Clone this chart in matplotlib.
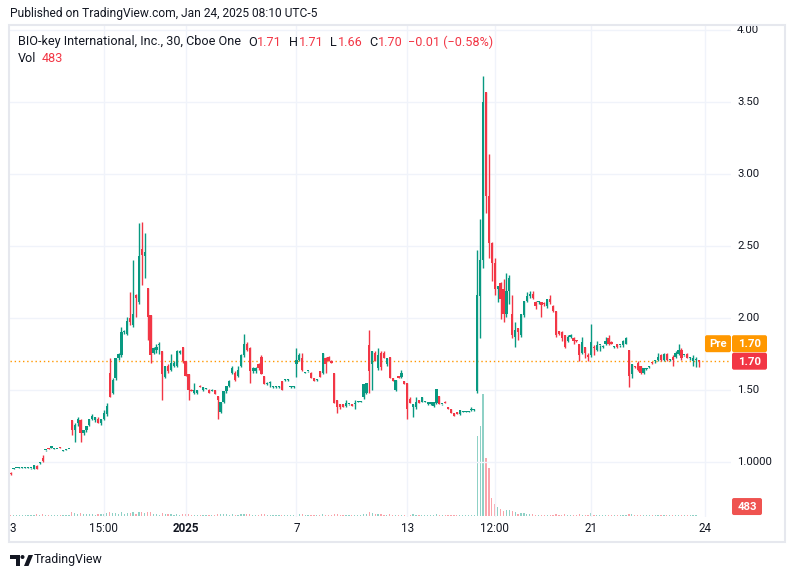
import numpy as np
import matplotlib
matplotlib.use("Agg")
import matplotlib.pyplot as plt
from matplotlib.patches import Rectangle, FancyBboxPatch, Polygon, Circle
from matplotlib.transforms import IdentityTransform

# 30 min bars, BIO-key (Cboe One), Dec 23 2024 -> Jan 24 2025
# each row: open, high, low, close, volume (thousands)
seg_dec = [
    (0.925, 0.930, 0.910, 0.915, 60), (0.950, 0.955, 0.948, 0.955, 40),
    (0.955, 0.960, 0.955, 0.960, 50), (0.960, 0.962, 0.958, 0.960, 30),
    (0.960, 0.962, 0.958, 0.961, 40), (0.960, 0.962, 0.958, 0.960, 30),
    (0.960, 0.962, 0.958, 0.961, 50), (0.955, 0.958, 0.953, 0.957, 40),
    (0.950, 0.980, 0.948, 0.980, 80), (0.975, 0.978, 0.952, 0.953, 90),
    (0.990, 1.000, 0.988, 1.000, 70), (1.030, 1.050, 1.000, 1.005, 140),
    (1.080, 1.085, 1.078, 1.084, 60), (1.099, 1.100, 1.088, 1.089, 50),
    (1.100, 1.112, 1.099, 1.110, 70), (1.092, 1.094, 1.090, 1.093, 40),
    (1.090, 1.092, 1.089, 1.091, 30), (1.100, 1.101, 1.095, 1.096, 40),
    (1.078, 1.082, 1.076, 1.080, 40), (1.084, 1.087, 1.083, 1.086, 30),
    (1.090, 1.093, 1.089, 1.092, 60),
]
seg_run = [
    (1.29, 1.295, 1.19, 1.22, 250), (1.22, 1.27, 1.14, 1.26, 200),
    (1.27, 1.31, 1.25, 1.30, 120), (1.29, 1.30, 1.14, 1.20, 220),
    (1.20, 1.22, 1.19, 1.22, 100), (1.22, 1.25, 1.21, 1.25, 90),
    (1.26, 1.30, 1.25, 1.30, 120), (1.30, 1.33, 1.29, 1.32, 100),
    (1.29, 1.31, 1.28, 1.31, 80), (1.30, 1.31, 1.27, 1.27, 90),
    (1.27, 1.30, 1.26, 1.30, 100), (1.30, 1.36, 1.29, 1.34, 150),
    (1.33, 1.41, 1.32, 1.39, 200), (1.62, 1.72, 1.45, 1.45, 320),
    (1.48, 1.58, 1.47, 1.57, 200), (1.58, 1.72, 1.57, 1.72, 240),
    (1.72, 1.76, 1.71, 1.75, 120), (1.74, 1.94, 1.73, 1.90, 260),
    (1.90, 1.92, 1.89, 1.91, 100), (1.89, 2.01, 1.88, 1.98, 180),
    (2.00, 2.18, 1.95, 1.975, 220), (1.95, 2.40, 1.94, 2.03, 280),
    (2.16, 2.17, 2.01, 2.14, 150), (2.11, 2.66, 2.10, 2.43, 320),
    (2.48, 2.67, 2.23, 2.44, 300), (2.43, 2.59, 2.28, 2.46, 200),
    (2.21, 2.21, 1.85, 2.01, 260), (2.02, 2.02, 1.69, 1.74, 280),
    (1.76, 1.80, 1.75, 1.79, 100), (1.78, 1.82, 1.76, 1.80, 90),
    (1.81, 1.83, 1.75, 1.815, 80), (1.77, 1.77, 1.43, 1.61, 200),
    (1.59, 1.67, 1.58, 1.67, 150), (1.67, 1.68, 1.62, 1.63, 90),
    (1.64, 1.75, 1.63, 1.69, 120), (1.67, 1.70, 1.66, 1.69, 70),
    (1.67, 1.78, 1.66, 1.77, 120), (1.76, 1.78, 1.75, 1.77, 60),
    (1.80, 1.80, 1.69, 1.70, 110), (1.70, 1.70, 1.60, 1.60, 130),
    (1.61, 1.61, 1.43, 1.50, 150), (1.50, 1.51, 1.49, 1.495, 60),
    (1.48, 1.55, 1.475, 1.50, 80), (1.48, 1.50, 1.47, 1.50, 60),
    (1.53, 1.535, 1.52, 1.52, 40), (1.50, 1.52, 1.495, 1.52, 50),
    (1.51, 1.515, 1.505, 1.512, 30), (1.50, 1.505, 1.48, 1.48, 50),
    (1.495, 1.505, 1.49, 1.50, 40), (1.50, 1.50, 1.47, 1.47, 60),
    (1.46, 1.46, 1.30, 1.43, 140), (1.35, 1.42, 1.34, 1.42, 120),
    (1.42, 1.49, 1.41, 1.49, 100), (1.49, 1.53, 1.48, 1.53, 90),
    (1.53, 1.57, 1.52, 1.56, 80),
]
seg_jan_a = [
    (1.62, 1.67, 1.61, 1.65, 90), (1.62, 1.63, 1.56, 1.57, 70),
    (1.60, 1.67, 1.59, 1.64, 80), (1.67, 1.75, 1.66, 1.74, 120),
    (1.74, 1.89, 1.73, 1.82, 160), (1.82, 1.83, 1.77, 1.78, 90),
    (1.79, 1.80, 1.55, 1.63, 140), (1.63, 1.66, 1.62, 1.65, 60),
    (1.63, 1.66, 1.62, 1.65, 50), (1.68, 1.69, 1.64, 1.65, 50),
    (1.73, 1.74, 1.61, 1.61, 110), (1.60, 1.60, 1.54, 1.54, 90),
    (1.54, 1.555, 1.535, 1.55, 40), (1.55, 1.56, 1.52, 1.55, 40),
    (1.52, 1.525, 1.515, 1.52, 30), (1.52, 1.525, 1.515, 1.521, 30),
    (1.52, 1.53, 1.515, 1.52, 30), (1.56, 1.56, 1.50, 1.50, 70),
    (1.57, 1.575, 1.565, 1.572, 30), (1.57, 1.575, 1.565, 1.571, 30),
    (1.52, 1.525, 1.515, 1.521, 30), (1.52, 1.525, 1.515, 1.521, 30),
    (1.68, 1.79, 1.59, 1.71, 160), (1.71, 1.76, 1.70, 1.74, 100),
    (1.72, 1.76, 1.63, 1.64, 110), (1.62, 1.625, 1.615, 1.621, 40),
    (1.63, 1.635, 1.625, 1.631, 40), (1.62, 1.625, 1.58, 1.58, 60),
    (1.58, 1.585, 1.56, 1.56, 50), (1.57, 1.575, 1.565, 1.571, 30),
    (1.63, 1.63, 1.59, 1.59, 60), (1.62, 1.76, 1.61, 1.76, 150),
    (1.72, 1.73, 1.62, 1.68, 80), (1.73, 1.735, 1.70, 1.70, 60),
    (1.70, 1.705, 1.69, 1.69, 40), (1.62, 1.62, 1.41, 1.41, 160),
    (1.43, 1.43, 1.34, 1.38, 120), (1.40, 1.40, 1.37, 1.38, 60),
    (1.40, 1.40, 1.38, 1.38, 50), (1.39, 1.43, 1.385, 1.41, 60),
    (1.40, 1.405, 1.395, 1.401, 30), (1.40, 1.40, 1.39, 1.39, 40),
    (1.40, 1.43, 1.37, 1.401, 40), (1.42, 1.425, 1.415, 1.421, 30),
    (1.42, 1.425, 1.415, 1.421, 30),
]
seg_jan_b = [
    (1.45, 1.54, 1.44, 1.54, 90), (1.48, 1.55, 1.47, 1.55, 100),
    (1.81, 1.92, 1.48, 1.63, 280), (1.68, 1.77, 1.50, 1.77, 200),
    (1.76, 1.77, 1.70, 1.70, 100), (1.65, 1.79, 1.64, 1.74, 120),
    (1.76, 1.77, 1.64, 1.66, 110), (1.76, 1.77, 1.72, 1.72, 70),
    (1.68, 1.72, 1.67, 1.72, 60), (1.73, 1.73, 1.58, 1.58, 110),
    (1.58, 1.585, 1.56, 1.56, 60), (1.50, 1.57, 1.49, 1.57, 80),
    (1.60, 1.60, 1.58, 1.585, 40), (1.59, 1.64, 1.585, 1.62, 60),
    (1.56, 1.565, 1.54, 1.54, 50), (1.55, 1.55, 1.30, 1.37, 150),
    (1.44, 1.45, 1.41, 1.41, 80), (1.38, 1.40, 1.31, 1.40, 90),
    (1.38, 1.45, 1.37, 1.42, 70), (1.43, 1.43, 1.41, 1.41, 40),
    (1.42, 1.45, 1.415, 1.45, 50), (1.42, 1.425, 1.415, 1.421, 30),
    (1.40, 1.42, 1.395, 1.42, 30), (1.40, 1.42, 1.395, 1.42, 30),
    (1.39, 1.42, 1.385, 1.42, 40), (1.41, 1.51, 1.40, 1.51, 90),
    (1.46, 1.46, 1.40, 1.40, 60), (1.40, 1.405, 1.395, 1.401, 30),
    (1.42, 1.425, 1.41, 1.41, 30),
    (1.38, 1.38, 1.37, 1.37, 40), (1.37, 1.37, 1.34, 1.34, 50),
    (1.34, 1.34, 1.32, 1.32, 50), (1.35, 1.35, 1.33, 1.33, 40),
    (1.33, 1.36, 1.325, 1.36, 40), (1.35, 1.355, 1.345, 1.351, 30),
    (1.35, 1.355, 1.345, 1.351, 30), (1.35, 1.355, 1.345, 1.351, 30),
    (1.36, 1.38, 1.355, 1.361, 30), (1.36, 1.365, 1.355, 1.362, 30),
]
seg_spike = [
    (1.49, 2.47, 1.48, 2.16, 6400), (2.15, 2.69, 1.86, 2.40, 7200),
    (2.40, 3.68, 2.35, 3.50, 9800), (3.57, 3.57, 2.73, 2.85, 4600),
    (2.85, 3.14, 2.42, 2.52, 3800), (2.52, 2.53, 2.26, 2.38, 1400),
    (2.38, 2.42, 2.16, 2.20, 900), (2.20, 2.22, 2.11, 2.22, 700),
    (2.24, 2.25, 1.99, 2.13, 500), (2.20, 2.27, 1.97, 2.03, 400),
    (2.03, 2.31, 2.01, 2.19, 450), (2.19, 2.30, 2.10, 2.28, 450),
    (2.03, 2.16, 1.86, 1.88, 350), (1.87, 1.97, 1.80, 1.92, 250),
    (1.93, 1.93, 1.85, 1.90, 150), (1.88, 2.03, 1.87, 2.03, 180),
    (2.02, 2.12, 2.01, 2.12, 200), (2.12, 2.18, 2.11, 2.15, 120),
    (2.15, 2.19, 2.14, 2.17, 90),
    (2.17, 2.19, 2.13, 2.14, 100), (2.11, 2.12, 2.06, 2.08, 80),
    (2.11, 2.12, 2.10, 2.111, 60), (2.11, 2.11, 2.01, 2.09, 70),
    (2.10, 2.11, 2.08, 2.095, 50), (2.08, 2.13, 2.07, 2.13, 70),
    (2.13, 2.16, 2.10, 2.11, 80), (2.08, 2.09, 2.04, 2.05, 60),
    (2.05, 2.05, 1.87, 1.88, 120), (1.91, 1.91, 1.88, 1.89, 60),
    (1.90, 1.91, 1.84, 1.86, 70), (1.88, 1.88, 1.79, 1.80, 90),
]
seg_late = [
    (1.84, 1.88, 1.83, 1.87, 60), (1.87, 1.89, 1.86, 1.88, 50),
    (1.86, 1.87, 1.82, 1.84, 50), (1.845, 1.85, 1.83, 1.84, 40),
    (1.82, 1.82, 1.70, 1.74, 90), (1.76, 1.87, 1.75, 1.83, 80),
    (1.80, 1.80, 1.72, 1.76, 60), (1.74, 1.76, 1.70, 1.73, 50),
    (1.74, 1.96, 1.73, 1.83, 200), (1.80, 1.81, 1.74, 1.795, 60),
    (1.78, 1.84, 1.77, 1.81, 50), (1.81, 1.815, 1.77, 1.811, 40),
    (1.80, 1.81, 1.79, 1.801, 30), (1.82, 1.87, 1.81, 1.84, 60),
    (1.86, 1.88, 1.81, 1.82, 60), (1.83, 1.84, 1.82, 1.82, 40),
    (1.80, 1.805, 1.79, 1.801, 30), (1.82, 1.82, 1.79, 1.80, 40),
    (1.81, 1.81, 1.80, 1.811, 30), (1.81, 1.85, 1.80, 1.84, 40),
    (1.82, 1.87, 1.82, 1.86, 60), (1.78, 1.78, 1.52, 1.60, 150),
    (1.61, 1.68, 1.58, 1.68, 90), (1.665, 1.67, 1.655, 1.66, 40),
    (1.69, 1.70, 1.63, 1.64, 60), (1.67, 1.67, 1.61, 1.62, 60),
    (1.62, 1.65, 1.61, 1.65, 50), (1.645, 1.655, 1.64, 1.65, 30),
    (1.66, 1.665, 1.655, 1.661, 30), (1.69, 1.695, 1.68, 1.685, 30),
    (1.70, 1.71, 1.69, 1.71, 40), (1.71, 1.76, 1.70, 1.73, 60),
    (1.74, 1.75, 1.70, 1.71, 50), (1.71, 1.76, 1.70, 1.75, 50),
    (1.75, 1.76, 1.70, 1.71, 50), (1.71, 1.715, 1.70, 1.711, 30),
    (1.73, 1.74, 1.67, 1.71, 50), (1.73, 1.77, 1.72, 1.76, 50),
    (1.75, 1.82, 1.74, 1.78, 70), (1.78, 1.79, 1.71, 1.72, 60),
    (1.74, 1.745, 1.735, 1.741, 30), (1.75, 1.76, 1.72, 1.72, 40),
    (1.72, 1.73, 1.71, 1.721, 30),
    (1.70, 1.74, 1.67, 1.72, 40), (1.71, 1.73, 1.66, 1.71, 30),
    (1.71, 1.71, 1.66, 1.70, 0.483),
]

price_ticks = [1.0, 1.5, 2.0, 2.5, 3.0, 3.5, 4.0]
price_labels = ["1.0000", "1.50", "2.00", "2.50", "3.00", "3.50", "4.00"]
time_ticks = [0, 32, 60, 98, 136, 166, 199, 238]
time_labels = ["3", "15:00", "2025", "7", "13", "12:00", "21", "24"]

rows = np.array(seg_dec + seg_run + seg_jan_a + seg_jan_b + seg_spike + seg_late)
o, h, l, c, vol = rows.T
n = len(rows)
x = np.arange(n)

UP, DOWN = "#089981", "#f23645"
TXT = "#131722"
GRID = "#f0f3fa"
ORANGE = "#ff9800"
FONT = ["Roboto", "DejaVu Sans"]

W, H = 795, 578
fig = plt.figure(figsize=(W / 100, H / 100), dpi=100)
renderer = fig.canvas.get_renderer()


def box(x0, y0, x1, y1):
    # pixel box (top-left origin) -> figure fraction rect
    return [x0 / W, 1 - y1 / H, (x1 - x0) / W, (y1 - y0) / H]


plot_box = box(10, 25, 731, 517)
ylo, yhi = 1 - 55 / 144, 1 + 437 / 144
xlo, xhi = -0.2, 247

ax_v = fig.add_axes(plot_box)
ax = fig.add_axes(plot_box, sharex=ax_v)
ax.patch.set_alpha(0)
for a in (ax, ax_v):
    a.set_axis_off()
ax.set_xlim(xlo, xhi)
ax.set_ylim(ylo, yhi)

# grid
for p in price_ticks:
    ax.axhline(p, color=GRID, lw=1, zorder=0)
for t in time_ticks[1:]:
    ax.axvline(t, color=GRID, lw=1, zorder=0)

# volume
up = c >= o
vcols = np.where(up, UP, DOWN)
ax_v.bar(x, vol, width=0.45, color=vcols, alpha=0.45, linewidth=0)
ax_v.set_ylim(-vol.max() * 0.012, vol.max() * 4.03)

# candles
ax.vlines(x, l, h, colors=vcols, lw=1, zorder=3)
body = np.maximum(np.abs(c - o), 0.007)
ax.bar(x, body, bottom=np.minimum(o, c), width=0.75, color=vcols,
       linewidth=0, zorder=4)

# last price line
ax.axhline(c[-1], color=ORANGE, lw=1, ls=(0, (1, 2)), zorder=2)

# price scale
ax_p = fig.add_axes(box(731, 25, 785, 517))
ax_p.set_axis_off()
ax_p.set_xlim(0, 54)
ax_p.set_ylim(ylo, yhi)
for p, lab in zip(price_ticks, price_labels):
    ax_p.text(6, p, lab, va="center", ha="left", fontsize=8.2, color=TXT,
              family=FONT, clip_on=True)

# time labels
for t, lab in zip(time_ticks, time_labels):
    px = 10 + (t - xlo) * 721 / (xhi - xlo)
    ha = "center"
    if t == 0:
        px, ha = 9, "left"
    fig.text(px / W, 1 - 528 / H, lab, ha=ha, va="center", fontsize=8.4,
             color=TXT, family=FONT,
             fontweight="bold" if lab == "2025" else "normal")


def badge(x0, yc, w, hgt, color, label, size=8.2):
    r = FancyBboxPatch((x0, H - yc - hgt / 2), w, hgt,
                       boxstyle="round,pad=0,rounding_size=2",
                       transform=IdentityTransform(), fc=color, ec="none",
                       zorder=10)
    fig.add_artist(r)
    fig.text((x0 + w / 2) / W, 1 - (yc + 0.5) / H, label, color="white",
             ha="center", va="center", fontsize=size, fontweight="bold",
             family=FONT, zorder=11)


last_y = H - ax.transData.transform((0, c[-1]))[1]
badge(732, last_y, 35, 17, DOWN, f"{c[-1]:.2f}")
badge(732, last_y - 17.5, 35, 17, ORANGE, f"{c[-1]:.2f}")
badge(705, last_y - 17.5, 26, 17, ORANGE, "Pre")
vol_base = H - ax_v.transData.transform((0, 0))[1]
badge(732, vol_base - 9, 30, 17, "#ef5350", f"{vol[-1] * 1000:.0f}")


def fit(s, target, size=10):
    t = fig.text(0, 0, s, fontsize=size, family=FONT)
    w = t.get_window_extent(renderer).width
    t.remove()
    return size * target / w


def row(pieces, x0, y, size):
    for s, col, gap in pieces:
        t = fig.text(x0 / W, 1 - y / H, s, fontsize=size, color=col,
                     ha="left", va="center", family=FONT)
        x0 += t.get_window_extent(renderer).width + gap


head = "Published on TradingView.com, Jan 24, 2025 08:10 UTC-5"
fig.text(10 / W, 1 - 14 / H, head, fontsize=fit(head, 307), color=TXT,
         ha="left", va="center", family=FONT)

name = "BIO-key International, Inc., 30, Cboe One"
lsize = fit(name, 223)
chg = c[-1] - c[-2]
pct = chg / c[-2] * 100
row([(name, TXT, 7),
     ("O", TXT, 0.5), (f"{o[-1]:.2f}", DOWN, 7),
     ("H", TXT, 0.5), (f"{h[-1]:.2f}", DOWN, 7),
     ("L", TXT, 0.5), (f"{l[-1]:.2f}", DOWN, 7),
     ("C", TXT, 0.5), (f"{c[-1]:.2f}", DOWN, 5),
     (f"\u2212{abs(chg):.2f} (\u2212{abs(pct):.2f}%)", DOWN, 0)],
    18, 42, lsize)
row([("Vol", TXT, 5), (f"{vol[-1] * 1000:.0f}", DOWN, 0)], 18, 58, lsize)

# chart frame
fig.add_artist(Rectangle((9, H - 542), 776, 517, transform=IdentityTransform(),
                         fill=False, ec="#e6e8ee", lw=1.5, zorder=20))

# footer logo
tr = IdentityTransform()
fig.add_artist(Polygon([(10, H - 555), (19.5, H - 555), (19.5, H - 566),
                        (15.5, H - 566), (15.5, H - 559), (10, H - 559)],
                       closed=True, transform=tr, fc=TXT, ec="none"))
fig.add_artist(Circle((22.5, H - 557), 2, transform=tr, fc=TXT, ec="none"))
fig.add_artist(Polygon([(24, H - 566), (28.5, H - 555), (33, H - 555),
                        (28.5, H - 566)], closed=True, transform=tr, fc=TXT,
                       ec="none"))
fig.text(34 / W, 1 - 560 / H, "TradingView", fontsize=fit("TradingView", 69),
         color=TXT, ha="left", va="center", family=FONT)

fig.savefig("out.png", dpi=100)
